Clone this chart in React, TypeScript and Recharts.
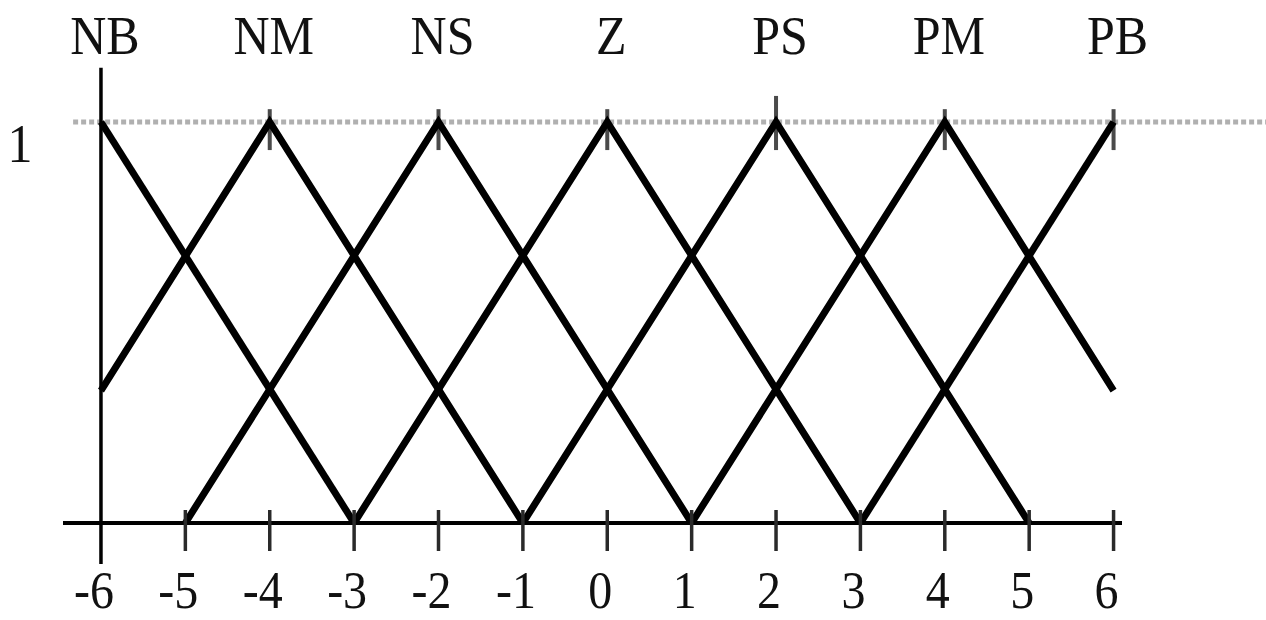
import React from 'react';
import { LineChart, Line, XAxis, YAxis, ReferenceLine, ReferenceDot } from 'recharts';

const setNames = ['NB', 'NM', 'NS', 'Z', 'PS', 'PM', 'PB'];
const setPeaks = [-6, -4, -2, 0, 2, 4, 6];
const xTicks = [-6, -5, -4, -3, -2, -1, 0, 1, 2, 3, 4, 5, 6];
const yTicks = [1];

const nbPoints = [{ x: -6, y: 1 }, { x: -3, y: 0 }];
const nmPoints = [{ x: -6, y: 0.33 }, { x: -4, y: 1 }, { x: -1, y: 0 }];
const nsPoints = [{ x: -5, y: 0 }, { x: -2, y: 1 }, { x: 1, y: 0 }];
const zPoints = [{ x: -3, y: 0 }, { x: 0, y: 1 }, { x: 3, y: 0 }];
const psPoints = [{ x: -1, y: 0 }, { x: 2, y: 1 }, { x: 5, y: 0 }];
const pmPoints = [{ x: 1, y: 0 }, { x: 4, y: 1 }, { x: 6, y: 0.33 }];
const pbPoints = [{ x: 3, y: 0 }, { x: 6, y: 1 }];

const seriesList = [nbPoints, nmPoints, nsPoints, zPoints, psPoints, pmPoints, pbPoints];

const FONT = '"Liberation Serif", "Times New Roman", serif';

const Txt = ({ x, y, children, size = 50 }: any) => (
  <text
    transform={`translate(${x},${y}) scale(1,1.09)`}
    x={0}
    y={0}
    textAnchor="middle"
    fontFamily={FONT}
    fontSize={size}
    fill="#111"
  >
    {children}
  </text>
);

const XTick = (props: any) => {
  const { x, y, payload } = props;
  const isFirst = payload.value === -6;
  return (
    <g>
      {!isFirst && (
        <line x1={x} x2={x} y1={y - 13} y2={y + 28} stroke="#2a2a2a" strokeWidth={3.5} />
      )}
      <Txt x={x - 7} y={y + 85} size={48}>
        {payload.value}
      </Txt>
    </g>
  );
};

const YTick = (props: any) => {
  const { x, y, payload } = props;
  return (
    <Txt x={x - 43} y={y + 40}>
      {payload.value}
    </Txt>
  );
};

const TopLabel = (name: string) => (props: any) => {
  const vb = props.viewBox || {};
  return (
    <Txt x={vb.x + 4} y={vb.y - 68}>
      {name}
    </Txt>
  );
};

export default function App() {
  return (
    <div style={{ position: 'absolute', left: 0, top: 0, width: 1266, height: 620, background: '#fff' }}>
      <LineChart
        width={1266}
        height={620}
        margin={{ top: 10, right: 144, left: 0, bottom: 0 }}
      >
        <XAxis
          type="number"
          dataKey="x"
          domain={[-6.45, 6.1]}
          allowDataOverflow
          ticks={xTicks}
          interval={0}
          height={97}
          tickSize={0}
          tickMargin={0}
          tickLine={false}
          axisLine={{ stroke: '#000', strokeWidth: 4 }}
          tick={<XTick />}
        />
        <YAxis
          type="number"
          dataKey="y"
          domain={[0, 1.2793]}
          allowDataOverflow
          ticks={yTicks}
          width={63}
          tickSize={0}
          tickMargin={0}
          tickLine={false}
          axisLine={false}
          tick={<YTick />}
        />
        <ReferenceLine
          segment={[{ x: -6.33, y: 1 }, { x: 7.9, y: 1 }]}
          stroke="#b0b0b0"
          strokeWidth={5}
          strokeDasharray="5 3"
          ifOverflow="visible"
        />
        <ReferenceLine
          segment={[{ x: -6, y: 1.135 }, { x: -6, y: -0.102 }]}
          stroke="#000"
          strokeWidth={3.5}
          ifOverflow="visible"
        />
        {setPeaks.slice(1).map((p, i) => (
          <ReferenceLine
            key={'pk' + p}
            segment={[{ x: p, y: setNames[i + 1] === 'PS' ? 1.065 : 1.032 }, { x: p, y: 0.93 }]}
            stroke="#4a4a4a"
            strokeWidth={4}
            ifOverflow="visible"
          />
        ))}
        {seriesList.map((pts, i) => (
          <Line
            key={setNames[i]}
            data={pts}
            dataKey="y"
            type="linear"
            stroke="#000"
            strokeWidth={7}
            dot={false}
            activeDot={false}
            isAnimationActive={false}
          />
        ))}
        {setPeaks.map((p, i) => (
          <ReferenceDot
            key={'lbl' + p}
            x={p}
            y={1}
            r={0}
            fill="none"
            stroke="none"
            ifOverflow="visible"
            label={{ content: TopLabel(setNames[i]) }}
          />
        ))}
      </LineChart>
    </div>
  );
}
